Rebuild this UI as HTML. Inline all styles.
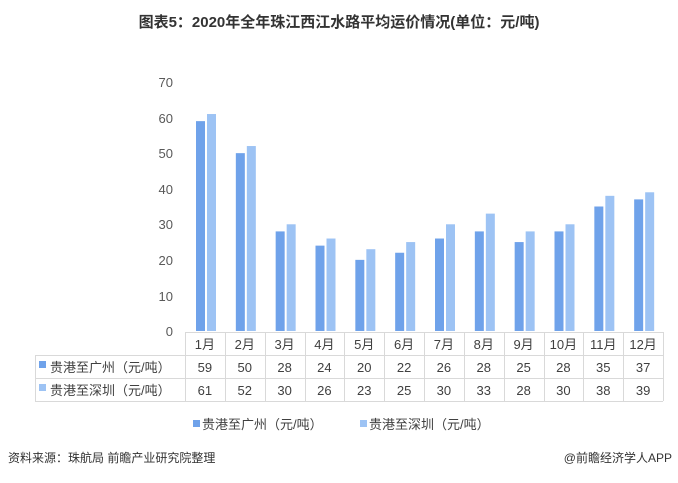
<!DOCTYPE html>
<html><head><meta charset="utf-8"><style>
body{margin:0;background:#fff}
svg text{font-family:"Liberation Sans","Noto Sans CJK SC",sans-serif}
</style></head><body>
<svg width="678" height="478" xmlns="http://www.w3.org/2000/svg">
<text x="339" y="27" text-anchor="middle" font-size="15" font-weight="bold" fill="#333">图表5：2020年全年珠江西江水路平均运价情况(单位：元/吨)</text>
<g font-size="13" fill="#595959" text-anchor="end">
<text x="173" y="336">0</text><text x="173" y="301">10</text><text x="173" y="265">20</text><text x="173" y="229">30</text><text x="173" y="194">40</text><text x="173" y="158">50</text><text x="173" y="123">60</text><text x="173" y="87">70</text>
</g>
<g id="bars"></g>
<g stroke="#d9d9d9" stroke-width="1" fill="none">
<line x1="185" y1="332.5" x2="663" y2="332.5"/>
<line x1="35" y1="355.5" x2="663" y2="355.5"/>
<line x1="35" y1="378.5" x2="663" y2="378.5"/>
<line x1="35" y1="401.5" x2="663" y2="401.5"/>
<line x1="35.5" y1="355" x2="35.5" y2="401"/>
</g>
<g id="tbl"></g>
<rect x="39" y="361" width="7" height="7" fill="#6fa2ea"/>
<rect x="39" y="384" width="7" height="7" fill="#9dc3f4"/>
<text x="50" y="372" font-size="13" fill="#404040">贵港至广州（元/吨）</text>
<text x="50" y="395" font-size="13" fill="#404040">贵港至深圳（元/吨）</text>
<rect x="193" y="420" width="7" height="7" fill="#6fa2ea"/>
<text x="202" y="429" font-size="13" fill="#404040">贵港至广州（元/吨）</text>
<rect x="360" y="420" width="7" height="7" fill="#9dc3f4"/>
<text x="369" y="429" font-size="13" fill="#404040">贵港至深圳（元/吨）</text>
<text x="8" y="462" font-size="12" fill="#333">资料来源：珠航局 前瞻产业研究院整理</text>
<text x="672" y="462" font-size="12" fill="#333" text-anchor="end">@前瞻经济学人APP</text>
</svg>
<script>
var a=[59,50,28,24,20,22,26,28,25,28,35,37],b=[61,52,30,26,23,25,30,33,28,30,38,39];
var ns="http://www.w3.org/2000/svg",g=document.getElementById("bars"),t=document.getElementById("tbl");
function el(p,tag,at,txt){var e=document.createElementNS(ns,tag);for(var k in at)e.setAttribute(k,at[k]);if(txt!=null)e.textContent=txt;p.appendChild(e);}
var w=(663-185)/12;
for(var i=0;i<12;i++){var x=185+w*i;
el(g,"rect",{x:x+11,y:331-3.557*a[i],width:9,height:3.557*a[i],fill:"#6fa2ea"});
el(g,"rect",{x:x+22,y:331-3.557*b[i],width:9,height:3.557*b[i],fill:"#9dc3f4"});
var c=x+w/2;
el(t,"text",{x:c,y:349,"font-size":13,fill:"#404040","text-anchor":"middle"},(i+1)+"月");
el(t,"text",{x:c,y:372,"font-size":13,fill:"#404040","text-anchor":"middle"},a[i]);
el(t,"text",{x:c,y:395,"font-size":13,fill:"#404040","text-anchor":"middle"},b[i]);
}
for(var i=0;i<=12;i++){var x=Math.round(185+w*i)+0.5;el(t,"line",{x1:x,y1:332,x2:x,y2:401,stroke:"#d9d9d9"});}
</script>
</body></html>
